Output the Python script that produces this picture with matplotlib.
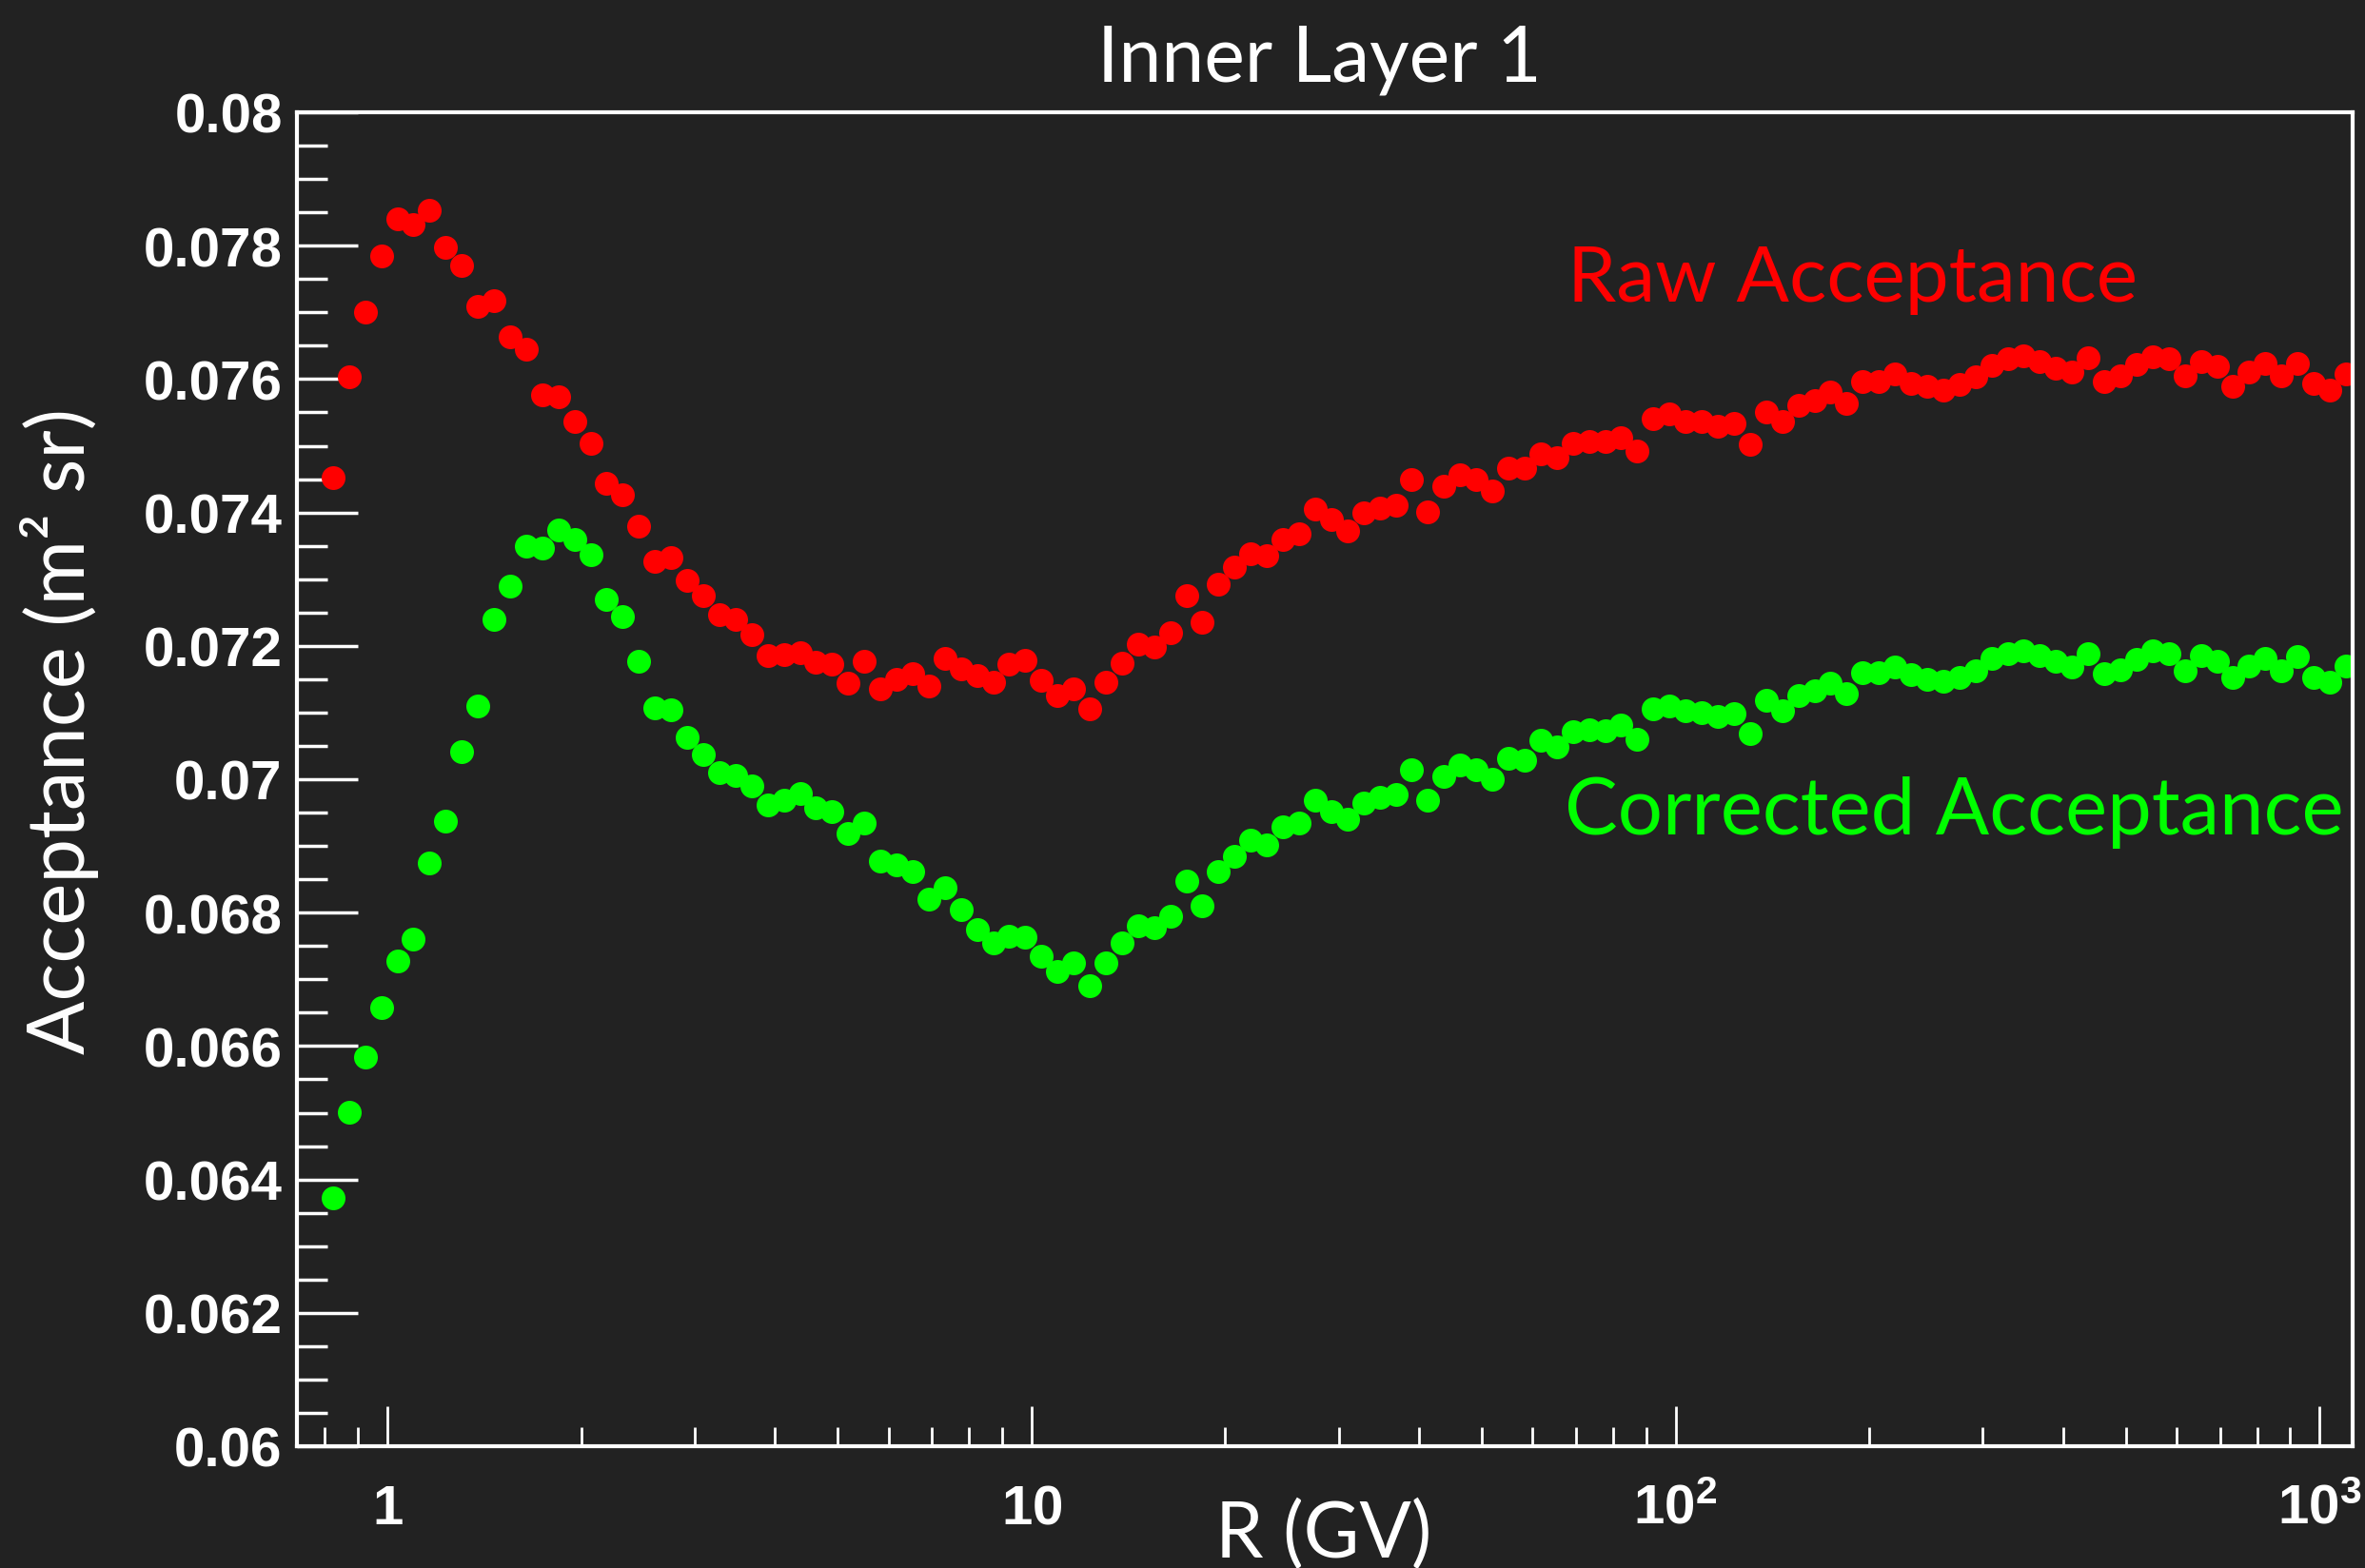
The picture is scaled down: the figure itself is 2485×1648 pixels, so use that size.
import matplotlib
matplotlib.use("Agg")
import matplotlib.pyplot as plt
from matplotlib import font_manager
from matplotlib.ticker import FixedLocator, LogLocator, MultipleLocator, FixedFormatter, NullFormatter

# rigidity bin centres (GV)
rigidity = [
    0.823, 0.872, 0.924, 0.979, 1.037, 1.098, 1.163, 1.232, 1.305, 1.382,
    1.464, 1.551, 1.643, 1.740, 1.843, 1.953, 2.068, 2.191, 2.321, 2.458,
    2.604, 2.758, 2.922, 3.095, 3.278, 3.472, 3.678, 3.896, 4.127, 4.372,
    4.631, 4.905, 5.196, 5.504, 5.830, 6.175, 6.541, 6.929, 7.339, 7.774,
    8.235, 8.723, 9.239, 9.787, 10.37, 10.98, 11.63, 12.32, 13.05, 13.82,
    14.64, 15.51, 16.43, 17.40, 18.43, 19.53, 20.68, 21.91, 23.21, 24.58,
    26.04, 27.58, 29.22, 30.95, 32.78, 34.72, 36.78, 38.96, 41.27, 43.72,
    46.31, 49.05, 51.96, 55.04, 58.30, 61.75, 65.41, 69.29, 73.39, 77.74,
    82.35, 87.23, 92.39, 97.87, 103.7, 109.8, 116.3, 123.2, 130.5, 138.2,
    146.4, 155.1, 164.3, 174.0, 184.3, 195.3, 206.8, 219.1, 232.1, 245.8,
    260.4, 275.8, 292.2, 309.5, 327.8, 347.2, 367.8, 389.6, 412.7, 437.2,
    463.1, 490.5, 519.6, 550.4, 583.0, 617.5, 654.1, 692.9, 733.9, 777.4,
    823.5, 872.3, 923.9, 978.7, 1037, 1098,
]

raw_acc = [
    0.07452, 0.07603, 0.07700, 0.07785, 0.07840, 0.07831, 0.07853, 0.07798, 0.07770, 0.07709,
    0.07717, 0.07663, 0.07645, 0.07576, 0.07574, 0.07537, 0.07503, 0.07444, 0.07427, 0.07379,
    0.07326, 0.07333, 0.07298, 0.07275, 0.07247, 0.07240, 0.07217, 0.07185, 0.07187, 0.07190,
    0.07176, 0.07173, 0.07144, 0.07177, 0.07136, 0.07150, 0.07158, 0.07140, 0.07181, 0.07166,
    0.07155, 0.07146, 0.07172, 0.07178, 0.07148, 0.07125, 0.07136, 0.07106, 0.07145, 0.07174,
    0.07202, 0.07198, 0.07219, 0.07276, 0.07235, 0.07292, 0.07318, 0.07338, 0.07335, 0.07359,
    0.07368, 0.07405, 0.07389, 0.07373, 0.07400, 0.07406, 0.07411, 0.07449, 0.07401, 0.07439,
    0.07457, 0.07449, 0.07432, 0.07466, 0.07467, 0.07488, 0.07482, 0.07504, 0.07507, 0.07507,
    0.07512, 0.07492, 0.07541, 0.07548, 0.07537, 0.07536, 0.07529, 0.07533, 0.07502, 0.07551,
    0.07537, 0.07561, 0.07568, 0.07580, 0.07563, 0.07597, 0.07597, 0.07608, 0.07593, 0.07589,
    0.07583, 0.07592, 0.07603, 0.07621, 0.07630, 0.07635, 0.07626, 0.07616, 0.07611, 0.07632,
    0.07597, 0.07605, 0.07622, 0.07633, 0.07630, 0.07605, 0.07626, 0.07619, 0.07589, 0.07611,
    0.07623, 0.07605, 0.07624, 0.07593, 0.07583, 0.07608,
]

corr_acc = [
    0.06372, 0.06501, 0.06584, 0.06657, 0.06727, 0.06761, 0.06875, 0.06937, 0.07041, 0.07110,
    0.07240, 0.07290, 0.07350, 0.07346, 0.07374, 0.07360, 0.07337, 0.07270, 0.07244, 0.07177,
    0.07107, 0.07104, 0.07063, 0.07037, 0.07010, 0.07006, 0.06990, 0.06961, 0.06968, 0.06978,
    0.06957, 0.06951, 0.06918, 0.06934, 0.06878, 0.06871, 0.06861, 0.06820, 0.06837, 0.06804,
    0.06775, 0.06754, 0.06764, 0.06763, 0.06734, 0.06712, 0.06724, 0.06691, 0.06725, 0.06755,
    0.06781, 0.06777, 0.06795, 0.06847, 0.06810, 0.06861, 0.06884, 0.06908, 0.06902, 0.06928,
    0.06934, 0.06968, 0.06951, 0.06940, 0.06964, 0.06973, 0.06977, 0.07014, 0.06968, 0.07004,
    0.07021, 0.07014, 0.07000, 0.07031, 0.07029, 0.07058, 0.07048, 0.07071, 0.07074, 0.07073,
    0.07081, 0.07060, 0.07105, 0.07110, 0.07103, 0.07100, 0.07094, 0.07098, 0.07069, 0.07118,
    0.07102, 0.07125, 0.07132, 0.07144, 0.07128, 0.07160, 0.07160, 0.07168, 0.07157, 0.07150,
    0.07147, 0.07153, 0.07163, 0.07181, 0.07188, 0.07193, 0.07185, 0.07177, 0.07169, 0.07188,
    0.07158, 0.07164, 0.07180, 0.07192, 0.07188, 0.07163, 0.07185, 0.07177, 0.07152, 0.07170,
    0.07181, 0.07163, 0.07184, 0.07152, 0.07146, 0.07170,
]

x_ticks = [1, 10, 100, 1000]
x_ticklabels = [r"$\mathrm{1}$", r"$\mathrm{10}$", r"$\mathrm{10^{2}}$", r"$\mathrm{10^{3}}$"]
y_ticks = [0.06, 0.062, 0.064, 0.066, 0.068, 0.07, 0.072, 0.074, 0.076, 0.078, 0.08]
y_ticklabels = ["0.06", "0.062", "0.064", "0.066", "0.068", "0.07",
                "0.072", "0.074", "0.076", "0.078", "0.08"]

BG = "#222222"
W, H = 2485, 1649

# narrow face for the rigidity labels if it is around
installed = {f.name for f in font_manager.fontManager.ttflist}
x_face = "Liberation Sans Narrow" if "Liberation Sans Narrow" in installed else "Liberation Sans"

plt.rcParams["mathtext.fontset"] = "custom"
plt.rcParams["mathtext.rm"] = x_face + ":bold"

fig = plt.figure(figsize=(W / 100, H / 100), dpi=100, facecolor=BG)
ax = fig.add_axes([312 / W, 1 - 1521 / H, (2472 - 312) / W, (1521 - 119) / H])
ax.set_facecolor(BG)

ax.plot(rigidity, raw_acc, "o", color="#ff0000", ms=18, mew=0)
ax.plot(rigidity, corr_acc, "o", color="#00ff00", ms=18, mew=0)

ax.set_xscale("log")
ax.set_xlim(0.724, 1125)
ax.set_ylim(0.06, 0.08)

for s in ax.spines.values():
    s.set_color("white")
    s.set_linewidth(3)

ax.xaxis.set_major_locator(FixedLocator(x_ticks))
ax.xaxis.set_major_formatter(FixedFormatter(x_ticklabels))
ax.xaxis.set_minor_locator(LogLocator(base=10, subs=range(2, 10)))
ax.xaxis.set_minor_formatter(NullFormatter())
ax.yaxis.set_major_locator(FixedLocator(y_ticks))
ax.yaxis.set_major_formatter(FixedFormatter(y_ticklabels))
ax.yaxis.set_minor_locator(MultipleLocator(0.0005))

ax.tick_params(axis="both", which="both", direction="in", colors="white",
               top=False, right=False)
ax.tick_params(axis="y", which="major", length=46, width=2.5, pad=11)
ax.tick_params(axis="y", which="minor", length=23, width=2.5)
ax.tick_params(axis="x", which="major", length=30, width=2, pad=58)
ax.tick_params(axis="x", which="minor", length=14.5, width=2)

for lab in ax.get_yticklabels():
    lab.set_fontfamily("Liberation Sans")
    lab.set_fontweight("bold")
    lab.set_fontsize(42)
for lab in ax.get_xticklabels():
    lab.set_fontsize(42)
    lab.set_va("baseline")

sans = ["Lato", "DejaVu Sans"]
fig.text(1386 / W, 1 - 86 / H, "Inner Layer 1", ha="center", va="baseline",
         family=sans, color="white", fontsize=58)
fig.text(1391 / W, 1 - 1637 / H, "R (GV)", ha="center", va="baseline",
         family=sans, color="white", fontsize=58)
fig.text(89 / W, 1 - 768 / H, "Acceptance (m² sr)", ha="center", va="baseline",
         rotation=90, rotation_mode="anchor", family=sans, color="white", fontsize=60)

fig.text(1647 / W, 1 - 317 / H, "Raw Acceptance", ha="left", va="baseline",
         color="#ff0000", fontsize=59, family=sans)
fig.text(1644 / W, 1 - 877 / H, "Corrected Acceptance", ha="left", va="baseline",
         color="#00ff00", fontsize=60, family=sans)

fig.savefig("out.png", dpi=100, facecolor=BG)
